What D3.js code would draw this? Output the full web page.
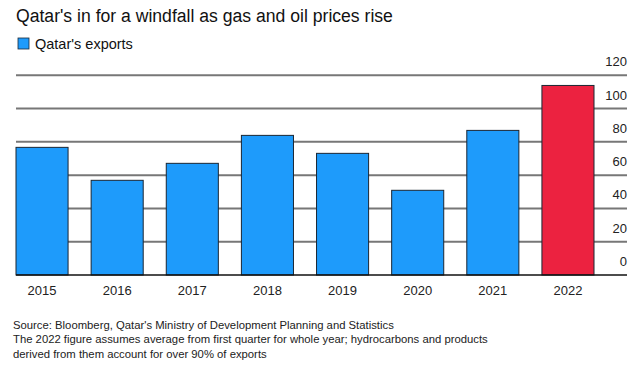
<!DOCTYPE html>
<html><head><meta charset="utf-8">
<script src="https://cdn.jsdelivr.net/npm/d3@7"></script>
<style>body{margin:0;background:#fff;} text{font-family:"Liberation Sans",Arial,sans-serif;}</style>
</head><body>
<svg id="c" width="637" height="382"></svg>
<script>
const years = ["2015","2016","2017","2018","2019","2020","2021","2022"];
const exportsVals = [76.7, 56.9, 67.1, 83.9, 73.1, 50.9, 86.9, 113.9];
const barColors = ["#1e9bfb","#1e9bfb","#1e9bfb","#1e9bfb","#1e9bfb","#1e9bfb","#1e9bfb","#ec2240"];
const yTicks = [0, 20, 40, 60, 80, 100, 120];
const title = "Qatar's in for a windfall as gas and oil prices rise";
const legendLabel = "Qatar's exports";
const notes = ["Source: Bloomberg, Qatar's Ministry of Development Planning and Statistics",
  "The 2022 figure assumes average from first quarter for whole year; hydrocarbons and products",
  "derived from them account for over 90% of exports"];

const svg = d3.select("#c");
const x = d3.scaleBand().domain(years).range([16, 594]).paddingInner(0.307).paddingOuter(0);
const y = d3.scaleLinear().domain([0, 120]).range([275, 75.3]);

svg.append("text").attr("x", 16).attr("y", 22).attr("font-size", 17.6).attr("fill", "#111").text(title);
svg.append("rect").attr("x", 18).attr("y", 38).attr("width", 11).attr("height", 11)
  .attr("fill", barColors[0]).attr("stroke", "#1a2a3a").attr("stroke-width", 0.8);
svg.append("text").attr("x", 35).attr("y", 49).attr("font-size", 14.5).attr("fill", "#111").text(legendLabel);

// gridlines
const gy = svg.append("g");
gy.selectAll("line").data(yTicks.filter(d => d > 0)).join("line")
  .attr("x1", 16).attr("x2", 627).attr("y1", d => y(d)).attr("y2", d => y(d))
  .attr("stroke", "#777").attr("stroke-width", 2);
gy.selectAll("text").data(yTicks).join("text")
  .attr("x", 627).attr("y", d => y(d) - 9).attr("text-anchor", "end")
  .attr("font-size", 13).attr("fill", "#222").text(d => d);

svg.append("g").selectAll("rect").data(years).join("rect")
  .attr("x", d => x(d)).attr("width", x.bandwidth())
  .attr("y", (d, i) => y(exportsVals[i])).attr("height", (d, i) => y(0) - y(exportsVals[i]))
  .attr("fill", (d, i) => barColors[i]).attr("stroke", "#1a2633").attr("stroke-width", 1);

svg.append("line").attr("x1", 16).attr("x2", 627).attr("y1", y(0)).attr("y2", y(0))
  .attr("stroke", "#111").attr("stroke-width", 1.5);

svg.append("g").selectAll("text").data(years).join("text")
  .attr("x", d => x(d) + x.bandwidth() / 2).attr("y", 295).attr("text-anchor", "middle")
  .attr("font-size", 13).attr("fill", "#222").text(d => d);

svg.append("g").selectAll("text").data(notes).join("text")
  .attr("x", 13).attr("y", (d, i) => 329 + i * 14.4).attr("font-size", 11.3).attr("fill", "#222").text(d => d);
</script>
</body></html>
